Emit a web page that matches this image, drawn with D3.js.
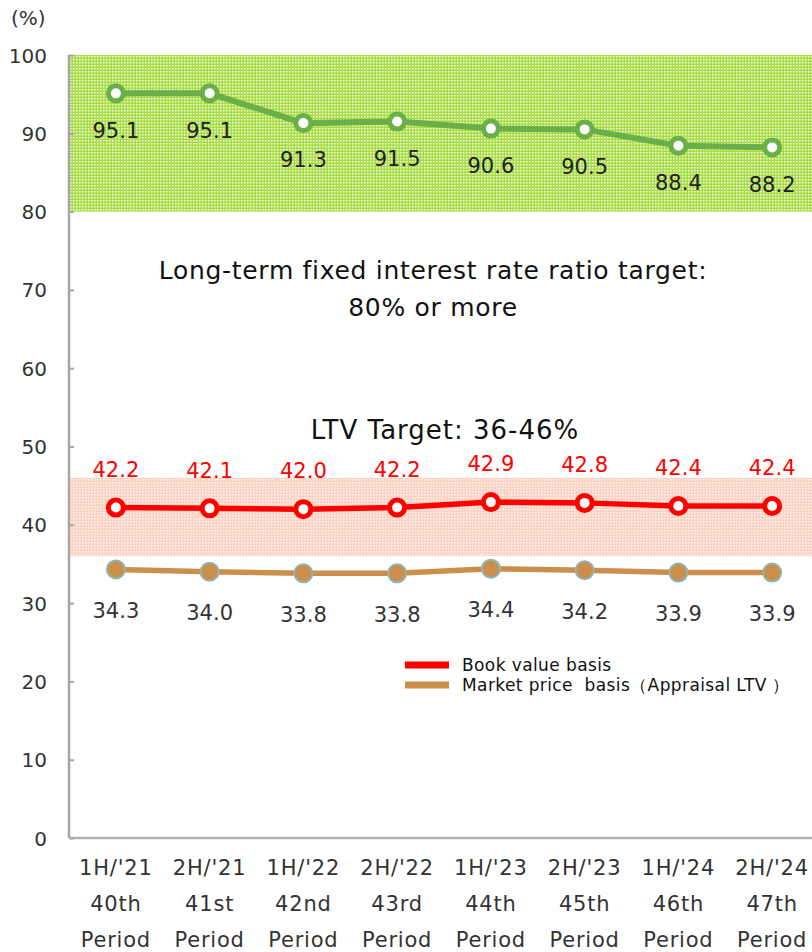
<!DOCTYPE html>
<html>
<head>
<meta charset="utf-8">
<script src="https://cdn.jsdelivr.net/npm/d3@7"></script>
<style>
  body { margin: 0; background: #fff; }
  svg { display: block; font-family: "DejaVu Sans", sans-serif; }
</style>
</head>
<body>
<div id="chart"></div>
<script>
// chart data
const halves = ["1H/'21", "2H/'21", "1H/'22", "2H/'22", "1H/'23", "2H/'23", "1H/'24", "2H/'24"];
const periods = ["40th", "41st", "42nd", "43rd", "44th", "45th", "46th", "47th"];
const fixedRate = [95.1, 95.1, 91.3, 91.5, 90.6, 90.5, 88.4, 88.2];
const bookLtv = [42.2, 42.1, 42.0, 42.2, 42.9, 42.8, 42.4, 42.4];
const marketLtv = [34.3, 34.0, 33.8, 33.8, 34.4, 34.2, 33.9, 33.9];
const yTicks = [0, 10, 20, 30, 40, 50, 60, 70, 80, 90, 100];
const fixedTargetBand = [80, 100];
const ltvTargetBand = [36, 46];

const W = 812, H = 952;
const margin = { top: 55, right: -7, bottom: 114, left: 69 };
const innerW = W - margin.left - margin.right;
const innerH = H - margin.top - margin.bottom;

const svg = d3.select('#chart').append('svg')
  .attr('width', W)
  .attr('height', H);

const defs = svg.append('defs');
function dotPattern(id, bg, dot) {
  const p = defs.append('pattern')
    .attr('id', id)
    .attr('width', 3).attr('height', 3)
    .attr('patternUnits', 'userSpaceOnUse');
  p.append('rect').attr('width', 3).attr('height', 3).attr('fill', bg);
  p.append('rect').attr('x', 1).attr('y', 1).attr('width', 1.5).attr('height', 1.5).attr('fill', dot);
}
dotPattern('greenDots', '#a8dc44', '#f4fbe6');
dotPattern('pinkDots', '#fcd3c3', '#fff4f0');

const g = svg.append('g').attr('transform', `translate(${margin.left},${margin.top})`);

const x = d3.scaleBand().domain(d3.range(halves.length)).range([0, innerW]);
const y = d3.scaleLinear().domain([0, 100]).range([innerH, 0]);
const cx = i => x(i) + x.bandwidth() / 2;

// target bands
g.append('rect')
  .attr('x', 0).attr('width', innerW)
  .attr('y', y(fixedTargetBand[1]))
  .attr('height', y(fixedTargetBand[0]) - y(fixedTargetBand[1]))
  .attr('fill', 'url(#greenDots)');
g.append('rect')
  .attr('x', 0).attr('width', innerW)
  .attr('y', y(ltvTargetBand[1]))
  .attr('height', y(ltvTargetBand[0]) - y(ltvTargetBand[1]))
  .attr('fill', 'url(#pinkDots)');

// y axis
const yAxis = d3.axisLeft(y).tickValues(yTicks).tickSize(-5).tickPadding(22);
g.append('g').attr('class', 'y-axis').call(yAxis)
  .call(s => s.select('.domain').remove())
  .call(s => s.selectAll('line').attr('stroke', '#a6a6a6').attr('stroke-width', 2))
  .call(s => s.selectAll('text').attr('font-size', 20).attr('fill', '#333')
    .attr('font-family', '"DejaVu Sans", sans-serif').attr('dy', '0.35em'));

g.append('line')
  .attr('x1', 0).attr('x2', 0).attr('y1', 0).attr('y2', innerH)
  .attr('stroke', '#a6a6a6').attr('stroke-width', 2.5);
g.append('line')
  .attr('x1', 0).attr('x2', innerW).attr('y1', innerH).attr('y2', innerH)
  .attr('stroke', '#b0b0b0').attr('stroke-width', 2.5);

// x labels
const xl = g.append('g').attr('class', 'x-axis');
halves.forEach((h, i) => {
  const t = xl.append('text')
    .attr('x', cx(i)).attr('y', innerH + 37)
    .attr('text-anchor', 'middle')
    .attr('font-size', 21).attr('letter-spacing', 0.8).attr('fill', '#333');
  [h, periods[i], 'Period'].forEach((line, k) => {
    t.append('tspan').attr('x', cx(i)).attr('dy', k === 0 ? 0 : 36).text(line);
  });
});

svg.append('text')
  .attr('x', 11).attr('y', 25)
  .attr('font-size', 20).attr('fill', '#333')
  .text('(%)');

// series
const line = d3.line().x((d, i) => cx(i)).y(d => y(d));

function drawSeries(values, color, width, fill, stroke, sw, r) {
  g.append('path').datum(values)
    .attr('d', line)
    .attr('fill', 'none')
    .attr('stroke', color)
    .attr('stroke-width', width);
  g.selectAll(null).data(values).enter().append('circle')
    .attr('cx', (d, i) => cx(i))
    .attr('cy', d => y(d))
    .attr('r', r)
    .attr('fill', fill)
    .attr('stroke', stroke)
    .attr('stroke-width', sw);
}
drawSeries(fixedRate, '#6aaf48', 6, '#fff', '#6aaf48', 5, 7.5);
drawSeries(bookLtv, '#ff0000', 5.5, '#fff', '#ff0000', 5, 7.5);
drawSeries(marketLtv, '#cc8e4b', 5.5, '#cc8e4b', '#8fb5b0', 2, 9);

function drawLabels(values, color, offset) {
  g.selectAll(null).data(values).enter().append('text')
    .attr('x', (d, i) => cx(i))
    .attr('y', d => y(d) + offset)
    .attr('dy', '0.35em')
    .attr('text-anchor', 'middle')
    .attr('font-size', 21)
    .attr('fill', color)
    .text(d => d.toFixed(1));
}
drawLabels(fixedRate, '#222', 37);
drawLabels(bookLtv, '#ff0000', -38);
drawLabels(marketLtv, '#333', 41);

// annotations
svg.append('text')
  .attr('x', 433).attr('y', 270).attr('dy', '0.35em')
  .attr('text-anchor', 'middle').attr('font-size', 25).attr('letter-spacing', 0.7)
  .attr('fill', '#111')
  .text('Long-term fixed interest rate ratio target:');
svg.append('text')
  .attr('x', 433).attr('y', 307).attr('dy', '0.35em')
  .attr('text-anchor', 'middle').attr('font-size', 25).attr('letter-spacing', 0.7)
  .attr('fill', '#111')
  .text('80% or more');
svg.append('text')
  .attr('x', 445).attr('y', 430).attr('dy', '0.35em')
  .attr('text-anchor', 'middle').attr('font-size', 26).attr('letter-spacing', 1)
  .attr('fill', '#111')
  .text('LTV Target: 36-46%');

// legend
const legendItems = [
  { label: 'Book value basis', color: '#ff0000' },
  { label: 'Market price  basis（Appraisal LTV ）', color: '#cc8e4b' }
];
const lg = svg.append('g').attr('transform', 'translate(405,665)');
legendItems.forEach((d, i) => {
  lg.append('rect')
    .attr('x', 0).attr('y', i * 20 - 3.5)
    .attr('width', 44).attr('height', 7)
    .attr('fill', d.color);
  lg.append('text')
    .attr('x', 57).attr('y', i * 20).attr('dy', '0.35em')
    .attr('font-size', 17).attr('letter-spacing', 0.4).attr('fill', '#111')
    .style('white-space', 'pre')
    .text(d.label);
});
</script>
</body>
</html>
